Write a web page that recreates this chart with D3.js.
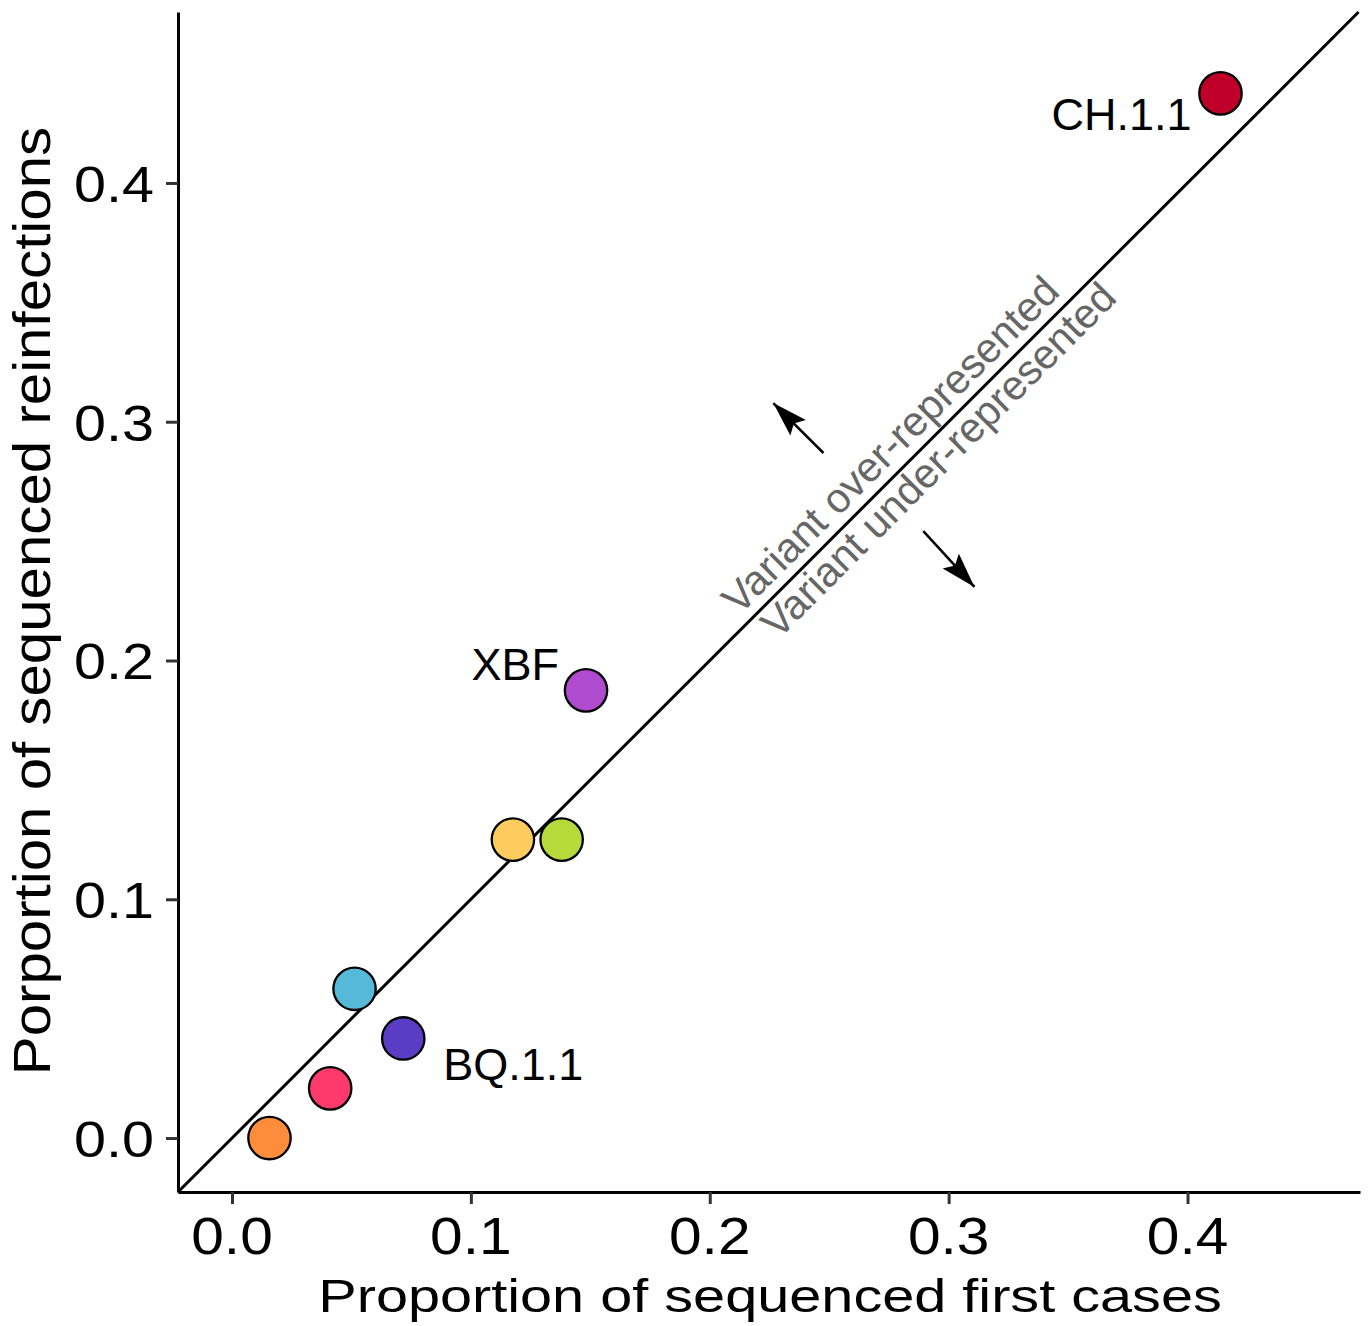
<!DOCTYPE html>
<html>
<head>
<meta charset="utf-8">
<script src="https://cdn.jsdelivr.net/npm/d3@7"></script>
<style>
	body{margin:0;background:#fff;}
	svg text{font-family:"Liberation Sans",Arial,Helvetica,sans-serif;}
</style>
</head>
<body>
<svg id="chart" width="1372" height="1326"></svg>
<script>
// values
var firstCases   = [0.0157, 0.0411, 0.0513, 0.0717, 0.1176, 0.1380, 0.1482, 0.4138];
var reinfections = [0.0000, 0.0208, 0.0625, 0.0417, 0.1250, 0.1250, 0.1875, 0.4375];
var variantLabels = ["", "", "", "BQ.1.1", "", "", "XBF", "CH.1.1"];
var pointColors  = ["#FD8D3B", "#FE3A6C", "#56B9D9", "#5B3CC5", "#FDCB5E", "#B6DA3A", "#AF4BCF", "#BF0029"];
var xTicks = [0, 0.1, 0.2, 0.3, 0.4];
var yTicks = [0, 0.1, 0.2, 0.3, 0.4];
var xTitle = "Proportion of sequenced first cases";
var yTitle = "Porportion of sequenced reinfections";
var overText = "Variant over-represented";
var underText = "Variant under-represented";

var svg = d3.select("#chart");

var x = d3.scaleLinear().domain([-0.0226, 0.4722]).range([178, 1360]);
var y = d3.scaleLinear().domain([-0.0226, 0.4716]).range([1192, 12]);

// y = x reference line
var lo = -0.0226, hi = 0.4716;
svg.append("line")
	.attr("x1", x(lo)).attr("y1", y(lo))
	.attr("x2", x(hi)).attr("y2", y(hi))
	.attr("stroke", "#000").attr("stroke-width", 3);

// arrow head
svg.append("defs").append("marker")
	.attr("id", "head")
	.attr("markerUnits", "userSpaceOnUse")
	.attr("viewBox", "-36 -12 37 24")
	.attr("refX", 0).attr("refY", 0)
	.attr("markerWidth", 37).attr("markerHeight", 24)
	.attr("orient", "auto")
	.append("path")
	.attr("d", "M0,0L-35,-11L-29,0L-35,11Z")
	.attr("fill", "#000");

var arrows = [
	{x1: 0.2476, y1: 0.2869, x2: 0.2266, y2: 0.3078},
	{x1: 0.2894, y1: 0.2542, x2: 0.3108, y2: 0.2308}
];
svg.selectAll(".arrow").data(arrows).enter().append("line")
	.attr("class", "arrow")
	.attr("x1", function(d){ return x(d.x1); })
	.attr("y1", function(d){ return y(d.y1); })
	.attr("x2", function(d){ return x(d.x2); })
	.attr("y2", function(d){ return y(d.y2); })
	.attr("stroke", "#000").attr("stroke-width", 2.5)
	.attr("marker-end", "url(#head)");

// the two notes along the diagonal
var notes = [
	{t: overText, x: 0.2798, y: 0.2862},
	{t: underText, x: 0.2999, y: 0.2798}
];
svg.selectAll(".note").data(notes).enter().append("text")
	.attr("class", "note")
	.attr("transform", function(d){ return "translate(" + x(d.x) + "," + y(d.y) + ") rotate(-45)"; })
	.attr("text-anchor", "middle")
	.attr("font-size", 41.5)
	.attr("fill", "#666")
	.text(function(d){ return d.t; });

// points
var pts = firstCases.map(function(v, i){
	return {x: v, y: reinfections[i], c: pointColors[i], label: variantLabels[i]};
});
svg.selectAll(".pt").data(pts).enter().append("circle")
	.attr("class", "pt")
	.attr("cx", function(d){ return x(d.x); })
	.attr("cy", function(d){ return y(d.y); })
	.attr("r", 21.2)
	.attr("fill", function(d){ return d.c; })
	.attr("stroke", "#000").attr("stroke-width", 2.3);

// labels, nudged off their points
var nudge = {
	"CH.1.1": {dx: -29, dy: 37, anchor: "end"},
	"XBF":    {dx: -27, dy: -10, anchor: "end"},
	"BQ.1.1": {dx: 40, dy: 42, anchor: "start"}
};
svg.selectAll(".lbl").data(pts.filter(function(d){ return d.label; })).enter().append("text")
	.attr("class", "lbl")
	.attr("x", function(d){ return x(d.x) + nudge[d.label].dx; })
	.attr("y", function(d){ return y(d.y) + nudge[d.label].dy; })
	.attr("text-anchor", function(d){ return nudge[d.label].anchor; })
	.attr("font-size", 45)
	.attr("fill", "#000")
	.text(function(d){ return d.label; });

// axes
var xAxis = svg.append("g").attr("transform", "translate(0,1192)")
	.call(d3.axisBottom(x).tickValues(xTicks).tickSize(12).tickSizeOuter(0).tickFormat(""));
var yAxis = svg.append("g").attr("transform", "translate(178,0)")
	.call(d3.axisLeft(y).tickValues(yTicks).tickSize(12).tickSizeOuter(0).tickFormat(""));
[xAxis, yAxis].forEach(function(a){
	a.select(".domain").attr("stroke", "#000").attr("stroke-width", 3);
	a.selectAll(".tick line").attr("stroke", "#333").attr("stroke-width", 3);
});

svg.selectAll(".xlab").data(xTicks).enter().append("text")
	.attr("class", "xlab")
	.attr("transform", function(d){ return "translate(" + x(d) + ",1254) scale(1.15,1)"; })
	.attr("text-anchor", "middle")
	.attr("font-size", 51)
	.attr("fill", "#000")
	.text(function(d){ return d3.format(".1f")(d); });

svg.selectAll(".ylab").data(yTicks).enter().append("text")
	.attr("class", "ylab")
	.attr("transform", function(d){ return "translate(154," + (y(d) + 19) + ") scale(1.15,1)"; })
	.attr("text-anchor", "end")
	.attr("font-size", 50)
	.attr("fill", "#000")
	.text(function(d){ return d3.format(".1f")(d); });

// titles
svg.append("text")
	.attr("transform", "translate(770,1312) scale(1.24,1)")
	.attr("text-anchor", "middle")
	.attr("font-size", 46.5)
	.attr("fill", "#000")
	.text(xTitle);

svg.append("text")
	.attr("transform", "translate(50,601) rotate(-90) scale(1.12,1)")
	.attr("text-anchor", "middle")
	.attr("font-size", 52)
	.attr("fill", "#000")
	.text(yTitle);
</script>
</body>
</html>
